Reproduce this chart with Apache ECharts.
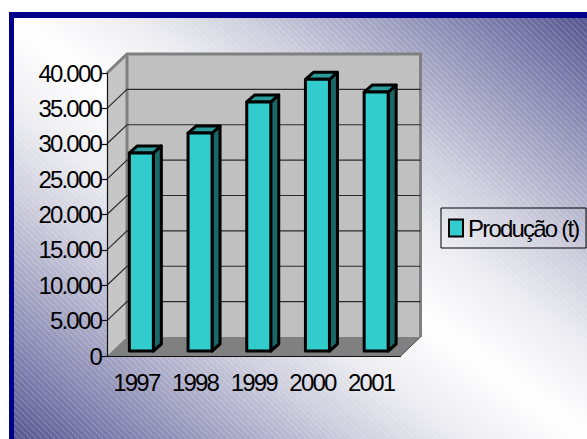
<!DOCTYPE html>
<html>
<head>
<meta charset="utf-8">
<style>
  html, body { margin: 0; padding: 0; background: #fff; }
  #chart { width: 587px; height: 439px; }
  #chart text { letter-spacing: -1.8px; }
</style>
<script src="https://cdn.jsdelivr.net/npm/echarts@6/dist/echarts.min.js"></script>
</head>
<body>
<div id="chart"></div>
<script>
// Dados
const anos = ["1997", "1998", "1999", "2000", "2001"];
const producao = [28000, 30800, 35200, 38400, 36600];
const marcas = [5000, 10000, 15000, 20000, 25000, 30000, 35000];

// profundidade do efeito 3D
const fundoX = 20, fundoY = -19;
const barraX = 5, barraY = -5;
const profX = 8, profY = -7;

function milhar(v) {
  return String(v).replace(/\B(?=(\d{3})+$)/g, ".");
}

// hachura diagonal do fundo
function hachura() {
  const c = document.createElement("canvas");
  c.width = 6;
  c.height = 6;
  const ctx = c.getContext("2d");
  ctx.strokeStyle = "rgba(255,255,255,0.18)";
  ctx.lineWidth = 1.2;
  [-6, 0, 6].forEach((d) => {
    ctx.beginPath();
    ctx.moveTo(d, 0);
    ctx.lineTo(d + 6, 6);
    ctx.stroke();
  });
  return c;
}

function paredes(params, api) {
  const a = api.coord([0, 0]);
  const size = api.size([1, 0]);
  const x0 = a[0] - size[0] / 2;
  const x1 = x0 + size[0] * anos.length;
  const y0 = a[1];
  const y1 = api.coord([0, 40000])[1];
  const poly = (points, fill) => ({
    type: "polygon",
    shape: { points },
    style: { fill, stroke: null },
  });
  const borda = (points, lineWidth, stroke) => ({
    type: "polyline",
    shape: { points },
    style: { fill: null, stroke, lineWidth },
  });
  return {
    type: "group",
    children: [
      poly([[x0 + fundoX, y1 + fundoY], [x1 + fundoX, y1 + fundoY], [x1 + fundoX, y0 + fundoY], [x0 + fundoX, y0 + fundoY]], "#c0c0c0"),
      poly([[x0, y1], [x0 + fundoX, y1 + fundoY], [x0 + fundoX, y0 + fundoY], [x0, y0]], "#c6c6c6"),
      poly([[x0, y0], [x0 + fundoX, y0 + fundoY], [x1 + fundoX, y0 + fundoY], [x1, y0]], "#808080"),
      borda([[x0, y1], [x0 + fundoX, y1 + fundoY], [x1 + fundoX, y1 + fundoY], [x1 + fundoX, y0 + fundoY]], 3, "#808080"),
      borda([[x0 + fundoX, y1 + fundoY], [x0 + fundoX, y0 + fundoY]], 3, "#808080"),
      borda([[x1 + fundoX, y0 + fundoY], [x1, y0]], 1, "#444"),
    ],
  };
}

function grade(params, api) {
  const a = api.coord([0, api.value(0)]);
  const size = api.size([1, 0]);
  const x0 = a[0] - size[0] / 2;
  const x1 = x0 + size[0] * anos.length;
  return {
    type: "polyline",
    shape: { points: [[x0, a[1]], [x0 + fundoX, a[1] + fundoY], [x1 + fundoX, a[1] + fundoY]] },
    style: { fill: null, stroke: "#2b2b2b", lineWidth: 1.2 },
  };
}

function barra(params, api) {
  const topo = api.coord([api.value(0), api.value(1)]);
  const base = api.coord([api.value(0), 0]);
  const w = 24;
  const x0 = topo[0] - w / 2 + barraX;
  const x1 = x0 + w;
  const yt = topo[1] + barraY;
  const yb = base[1] + barraY;
  const face = (points, fill) => ({
    type: "polygon",
    shape: { points },
    style: { fill, stroke: "#000", lineWidth: 3, lineJoin: "round" },
  });
  return {
    type: "group",
    children: [
      face([[x1, yt], [x1 + profX, yt + profY], [x1 + profX, yb + profY], [x1, yb]], "#1b6666"),
      face([[x0, yt], [x0 + profX, yt + profY], [x1 + profX, yt + profY], [x1, yt]], "#2a9a9a"),
      face([[x0, yt], [x1, yt], [x1, yb], [x0, yb]], "#33cccc"),
    ],
  };
}

const chart = echarts.init(document.getElementById("chart"), null, { renderer: "svg" });

chart.setOption({
  animation: false,
  backgroundColor: "#fff",
  textStyle: { fontFamily: "Liberation Sans", color: "#000" },
  graphic: [
    {
      type: "rect",
      z: -10,
      shape: { x: 9, y: 12, width: 578, height: 427 },
      style: {
        fill: new echarts.graphic.LinearGradient(
          498, -47, 98, 503,
          [
            { offset: 0, color: "#55558f" },
            { offset: 0.1, color: "#8080ae" },
            { offset: 0.2, color: "#a8a8c6" },
            { offset: 0.3, color: "#cfcfde" },
            { offset: 0.4, color: "#eeeef2" },
            { offset: 0.5, color: "#ffffff" },
            { offset: 0.6, color: "#eeeef2" },
            { offset: 0.7, color: "#cfcfde" },
            { offset: 0.8, color: "#a8a8c6" },
            { offset: 0.9, color: "#8080ae" },
            { offset: 1, color: "#55558f" },
          ],
          true
        ),
      },
    },
    {
      type: "rect",
      z: -9,
      shape: { x: 9, y: 12, width: 578, height: 427 },
      style: { fill: { image: hachura(), repeat: "repeat" } },
    },
    { type: "rect", z: -8, shape: { x: 9, y: 12, width: 578, height: 6 }, style: { fill: "#00008b" } },
    { type: "rect", z: -8, shape: { x: 9, y: 12, width: 5, height: 427 }, style: { fill: "#00008b" } },
  ],
  grid: { left: 107, top: 73, width: 293.5, height: 283 },
  legend: {
    left: 441,
    top: 208,
    data: ["Produção (t)"],
    orient: "vertical",
    padding: [8, -14, 8, 7],
    borderColor: "#000",
    borderWidth: 1,
    borderRadius: 0,
    itemWidth: 14,
    itemHeight: 17,
    itemGap: 0,
    icon: "rect",
    textStyle: { fontSize: 24, fontFamily: "Liberation Sans", color: "#000" },
  },
  xAxis: {
    type: "category",
    data: anos,
    z: 5,
    axisLine: { lineStyle: { color: "#111", width: 1.2 } },
    axisTick: { length: 5, alignWithLabel: false, lineStyle: { color: "#111", width: 1.2 } },
    axisLabel: { interval: 0, fontSize: 24, color: "#000", margin: 14, fontFamily: "Liberation Sans" },
  },
  yAxis: {
    type: "value",
    min: 0,
    max: 40000,
    interval: 5000,
    z: 5,
    axisLine: { show: true, lineStyle: { color: "#111", width: 1.2 } },
    axisTick: { show: true, length: 5, lineStyle: { color: "#111", width: 1.2 } },
    splitLine: { show: false },
    axisLabel: { fontSize: 24, color: "#000", margin: 6, fontFamily: "Liberation Sans", formatter: milhar },
  },
  series: [
    { type: "custom", silent: true, z: 1, renderItem: paredes, data: [[0]] },
    { type: "custom", silent: true, z: 2, renderItem: grade, data: marcas.map((v) => [v]), encode: { y: 0 } },
    {
      type: "custom",
      name: "Produção (t)",
      z: 3,
      renderItem: barra,
      itemStyle: { color: "#33cccc", borderColor: "#000", borderWidth: 3 },
      data: producao.map((v, i) => [i, v]),
      encode: { x: 0, y: 1 },
    },
  ],
});
</script>
</body>
</html>
